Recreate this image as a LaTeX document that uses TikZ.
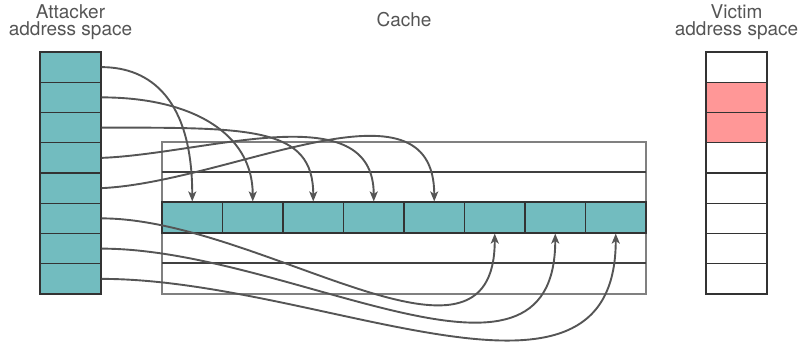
\documentclass[tikz,border=0pt]{standalone}
\usepackage{fontspec}
\setmainfont{TeX Gyre Heros}
\usetikzlibrary{arrows.meta}
\definecolor{tealcell}{HTML}{72BCBF}
\definecolor{pinkcell}{HTML}{FF9797}
\definecolor{inkgray}{HTML}{555555}
\definecolor{rimgray}{HTML}{808080}
\begin{document}
\begin{tikzpicture}[x=1pt,y=-1pt]
\tikzstyle{cell}=[rectangle, draw=black!80, line width=1.1pt, minimum width=61pt, minimum height=30.25pt, inner sep=0, fill=white]
\tikzstyle{line}=[rectangle, draw=black!80, line width=1.1pt, minimum width=60.5pt, minimum height=31pt, inner sep=0, fill=tealcell]
\tikzstyle{titulo}=[text=inkgray, align=center, font=\fontsize{19}{16.5}\selectfont, inner sep=0]
\tikzstyle{seta}=[-{Stealth[length=10pt, width=8pt, inset=2.5pt]}, draw=inkgray, line width=1.9pt]
\useasboundingbox (0,0) rectangle (803,341);
% labels
\node[titulo, anchor=base] (atitulo) at(70.5,35){Attacker\\address space};
\node[titulo, anchor=base] (ctitulo) at(404,26.5){Cache};
\node[titulo, anchor=base] (vtitulo) at(736.5,35){Victim\\address space};
% attacker address space
\node[cell, fill=tealcell] (a1) at(70.5,67.125){};
\node[cell, fill=tealcell] (a2) at(70.5,97.375){};
\node[cell, fill=tealcell] (a3) at(70.5,127.625){};
\node[cell, fill=tealcell] (a4) at(70.5,157.875){};
\node[cell, fill=tealcell] (a5) at(70.5,188.125){};
\node[cell, fill=tealcell] (a6) at(70.5,218.375){};
\node[cell, fill=tealcell] (a7) at(70.5,248.625){};
\node[cell, fill=tealcell] (a8) at(70.5,278.875){};
% victim address space
\node[cell] (v1) at(736.5,67.125){};
\node[cell, fill=pinkcell] (v2) at(736.5,97.375){};
\node[cell, fill=pinkcell] (v3) at(736.5,127.625){};
\node[cell] (v4) at(736.5,157.875){};
\node[cell] (v5) at(736.5,188.125){};
\node[cell] (v6) at(736.5,218.375){};
\node[cell] (v7) at(736.5,248.625){};
\node[cell] (v8) at(736.5,278.875){};
% cache
\draw[rimgray, line width=1.1pt](162,142) rectangle (646,294);
\draw[black!75, line width=1.1pt](162,172)--(646,172);
\draw[black!75, line width=1.1pt](162,263)--(646,263);
\node[line] (c1) at(192.25,217.5){};
\node[line] (c2) at(252.75,217.5){};
\node[line] (c3) at(313.25,217.5){};
\node[line] (c4) at(373.75,217.5){};
\node[line] (c5) at(434.25,217.5){};
\node[line] (c6) at(494.75,217.5){};
\node[line] (c7) at(555.25,217.5){};
\node[line] (c8) at(615.75,217.5){};
% accesses
\draw[seta](a1.east) .. controls +(49,0) and +(0,-102) .. (c1.north);
\draw[seta](a2.east) .. controls +(89,0) and +(0,-69) .. (c2.north);
\draw[seta](a3.east) .. controls +(149,0) and +(0,-75) .. (c3.north);
\draw[seta](a4.east) .. controls +(105,-4) and +(0,-107) .. (c4.north);
\draw[seta](a5.east) .. controls +(129,-6) and +(0,-132) .. (c5.north);
\draw[seta](a6.east) .. controls +(159,0) and +(0,165) .. (c6.south);
\draw[seta](a7.east) .. controls +(189,0) and +(0,187) .. (c7.south);
\draw[seta](a8.east) .. controls +(219,0) and +(0,207) .. (c8.south);
\end{tikzpicture}
\end{document}
